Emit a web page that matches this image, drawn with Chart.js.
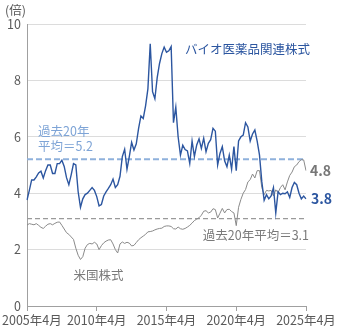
<!DOCTYPE html>
<html lang="ja">
<head>
  <meta charset="UTF-8">
  <title>バイオ医薬品関連株式と米国株式</title>
  <style>
    html, body { margin: 0; padding: 0; background: #fff; }
    .chart-container { width: 342px; height: 332px; }
  </style>
</head>
<body>
  <div class="chart-container">
    <canvas id="myChart" width="342" height="332"></canvas>
  </div>

  <script src="https://cdn.jsdelivr.net/npm/chart.js"></script>
  <script>
    const FONT = '"Noto Sans CJK JP", "Noto Sans", sans-serif';

    // Bimonthly readings, Apr 2005 - Apr 2025.
    const bioValues = [
      3.76, 4.1, 4.47, 4.47, 4.58, 4.72, 4.78, 4.54, 4.8, 5.0,
      5.0, 4.7, 4.7, 5.05, 5.05, 5.17, 4.95, 4.55, 4.3, 4.65,
      5.05, 5.0, 4.05, 3.5, 3.8, 3.95, 4.0, 4.1, 4.2, 4.1,
      3.88, 3.55, 3.6, 3.9, 4.05, 4.17, 4.3, 4.5, 4.2, 4.3,
      4.6, 5.3, 5.56, 4.85, 5.3, 5.8, 5.53, 5.75, 6.3, 6.74,
      6.65, 7.1, 7.7, 9.3, 7.6, 7.35, 8.1, 8.6, 8.95, 9.18,
      9.0, 9.05, 9.2, 6.5, 7.05, 6.0, 5.35, 5.7, 5.55, 5.5,
      5.06, 5.85, 5.3, 5.71, 5.93, 5.59, 5.95, 5.47, 5.77, 5.9,
      6.3, 6.2, 5.0, 5.41, 5.65, 5.15, 4.94, 5.35, 4.85, 5.65,
      4.8, 5.85, 6.0, 6.06, 6.5, 6.35, 5.85, 6.1, 6.24, 5.85,
      5.35, 4.4, 3.75, 3.95, 3.8, 3.9, 4.2, 3.3, 4.05, 3.95,
      4.0, 3.98, 4.05, 3.85, 4.2, 4.38, 4.3, 4.0, 3.8, 3.9,
      3.8
    ];
    const usValues = [
      2.87, 2.92, 2.9, 2.88, 2.92, 2.86, 2.79, 2.75, 2.83, 2.9,
      2.92, 2.88, 2.93, 2.97, 2.98, 2.86, 2.73, 2.6, 2.54, 2.45,
      2.36, 2.05, 1.8, 1.65, 1.75, 2.05, 2.18, 2.22, 2.2, 2.26,
      2.2, 2.0, 2.14, 2.24, 2.3, 2.34, 2.35, 2.2, 2.0, 1.88,
      2.2, 2.27, 2.22, 2.26, 2.23, 2.13, 2.15, 2.25, 2.35, 2.42,
      2.48, 2.54, 2.63, 2.64, 2.66, 2.7, 2.73, 2.75, 2.76, 2.82,
      2.84, 2.84, 2.82, 2.74, 2.73, 2.8, 2.74, 2.72, 2.75, 2.8,
      2.86, 2.94, 3.03, 3.08, 3.13, 3.22, 3.36, 3.38, 3.3, 3.33,
      3.45, 3.42, 3.12, 3.29, 3.46, 3.3, 3.42, 3.43, 3.35, 3.3,
      2.85, 3.5, 3.78, 4.0, 4.13, 4.4, 4.48, 4.68, 4.54, 4.8,
      4.8, 4.2, 3.95, 4.1, 4.08, 4.1, 3.9, 4.12, 4.02, 4.2,
      4.3, 4.12, 4.4, 4.63, 4.75, 4.94, 5.0, 5.12, 5.19, 5.18,
      4.8
    ];
    const bioAverage = 5.2;
    const usAverage = 3.1;
    const labelEvery = 30; // one x label every 5 years

    // Month labels, 2 months apart, starting Apr 2005.
    const labels = [];
    for (let i = 0; i < bioValues.length; i++) {
      const m = 3 + 2 * i;
      labels.push(`${2005 + Math.floor(m / 12)}年${m % 12 + 1}月`);
    }

    const BLUE = '#2c56a0';
    const LIGHT_BLUE = '#8fb1dc';
    const GRAY = '#8a8a8a';
    const TEXT = '#595959';

    // Texts drawn on top of the chart.
    const annotations = {
      id: 'annotations',
      afterDraw(chart) {
        const {ctx, chartArea} = chart;
        const x = chart.scales.x;
        const y = chart.scales.y;
        ctx.save();
        ctx.textBaseline = 'middle';
        ctx.font = `12.5px ${FONT}`;

        // X axis labels (the first one kept inside the canvas).
        ctx.fillStyle = TEXT;
        ctx.textAlign = 'center';
        x.ticks.forEach(t => {
          const text = labels[t.value];
          const w = ctx.measureText(text).width;
          const px = Math.max(x.getPixelForValue(t.value), w / 2 + 2);
          ctx.fillText(text, px, chartArea.bottom + 14);
        });

        ctx.textAlign = 'left';
        ctx.fillText('(倍)', 5, 10);

        ctx.fillStyle = BLUE;
        ctx.fillText('バイオ医薬品関連株式', x.getPixelForValue(68), y.getPixelForValue(9.1));

        const bioAvgY = y.getPixelForValue(bioAverage);
        ctx.fillStyle = '#7ea4d6';
        ctx.fillText('過去20年', 38, bioAvgY - 28);
        ctx.fillText(`平均＝${bioAverage.toFixed(1)}`, 38, bioAvgY - 13);

        ctx.fillStyle = '#7a7a7a';
        ctx.fillText('米国株式', x.getPixelForValue(20), y.getPixelForValue(1.08));
        ctx.textAlign = 'right';
        ctx.fillText(`過去20年平均＝${usAverage.toFixed(1)}`, chartArea.right + 3, y.getPixelForValue(usAverage) + 17);

        // End values.
        ctx.textAlign = 'left';
        ctx.font = `600 14px ${FONT}`;
        const last = labels.length - 1;
        ctx.fillStyle = '#777';
        ctx.fillText(usValues[last].toFixed(1), chartArea.right + 4, y.getPixelForValue(usValues[last]));
        ctx.fillStyle = BLUE;
        ctx.fillText(bioValues[last].toFixed(1), chartArea.right + 5, y.getPixelForValue(bioValues[last]));
        ctx.restore();
      }
    };

    const config = {
      type: 'line',
      data: {
        labels,
        datasets: [
          {
            label: 'バイオ医薬品関連株式',
            data: bioValues,
            borderColor: BLUE,
            borderWidth: 1.4,
            pointRadius: 0
          },
          {
            label: '米国株式',
            data: usValues,
            borderColor: GRAY,
            borderWidth: 1,
            pointRadius: 0
          },
          {
            label: 'バイオ医薬品関連株式 過去20年平均',
            data: labels.map(() => bioAverage),
            borderColor: LIGHT_BLUE,
            borderWidth: 2,
            borderDash: [6, 3],
            pointRadius: 0
          },
          {
            label: '米国株式 過去20年平均',
            data: labels.map(() => usAverage),
            borderColor: '#9a9a9a',
            borderWidth: 1.2,
            borderDash: [5, 3],
            pointRadius: 0
          }
        ]
      },
      options: {
        responsive: false,
        animation: false,
        devicePixelRatio: 1,
        layout: {padding: {top: 24, right: 36, bottom: 0, left: 0}},
        plugins: {
          legend: {display: false},
          tooltip: {enabled: false}
        },
        scales: {
          x: {
            type: 'category',
            offset: false,
            afterBuildTicks: scale => {
              scale.ticks = scale.ticks.filter(t => t.value % labelEvery === 0);
            },
            ticks: {autoSkip: false, maxRotation: 0, callback: () => ''},
            grid: {drawOnChartArea: false, drawTicks: true, tickLength: 5, color: '#a0a0a0'},
            border: {color: '#a0a0a0'},
            afterFit: scale => {
              scale.height = 26;
              scale.paddingLeft = 0;
              scale.paddingRight = 0;
            }
          },
          y: {
            min: 0,
            max: 10,
            ticks: {
              stepSize: 2,
              padding: 6,
              color: TEXT,
              font: {family: FONT, size: 12.5}
            },
            grid: {color: '#dcdcdc', drawTicks: false},
            border: {color: '#a0a0a0'},
            afterFit: scale => { scale.width = 27; }
          }
        }
      },
      plugins: [annotations]
    };

    const chart = new Chart(document.querySelector('#myChart'), config);
    window.chart = chart;
  </script>
</body>
</html>
